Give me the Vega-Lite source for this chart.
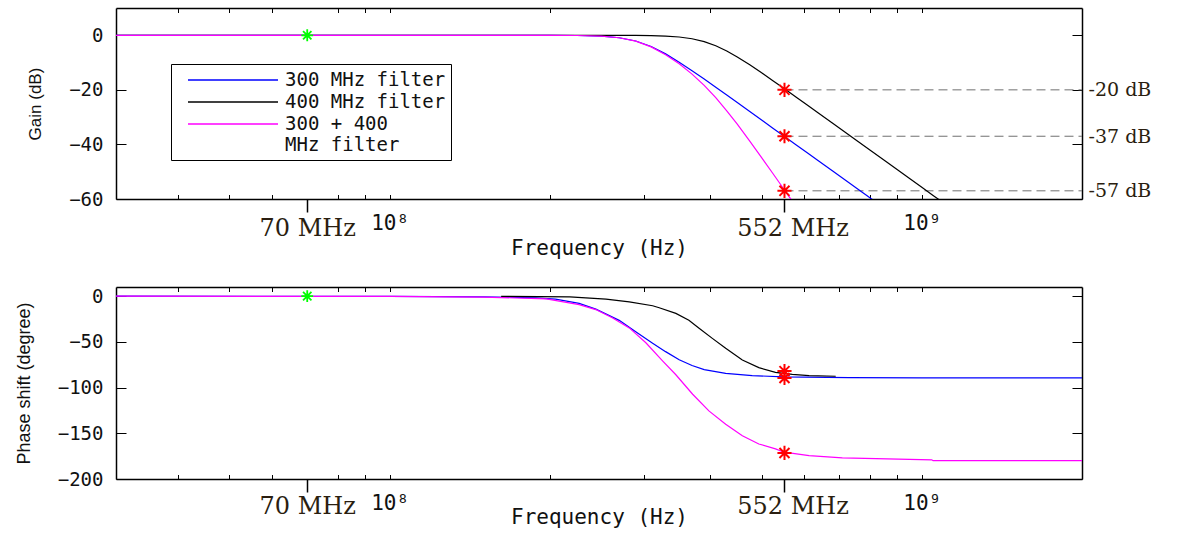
{
  "$schema": "https://vega.github.io/schema/vega-lite/v6.json",
  "background": "white",
  "padding": {"left": 15, "top": 7, "right": 5, "bottom": 5},
  "spacing": 88,
  "bounds": "flush",
  "datasets": {
    "gain": [
      {"filter": "300 MHz filter", "f": 30.6, "g": 0},
      {"filter": "300 MHz filter", "f": 100, "g": 0},
      {"filter": "300 MHz filter", "f": 150, "g": 0},
      {"filter": "300 MHz filter", "f": 200, "g": -0.01},
      {"filter": "300 MHz filter", "f": 225, "g": -0.08},
      {"filter": "300 MHz filter", "f": 250, "g": -0.33},
      {"filter": "300 MHz filter", "f": 270, "g": -0.9},
      {"filter": "300 MHz filter", "f": 290, "g": -2.1},
      {"filter": "300 MHz filter", "f": 310, "g": -4.12},
      {"filter": "300 MHz filter", "f": 330, "g": -6.81},
      {"filter": "300 MHz filter", "f": 350, "g": -9.85},
      {"filter": "300 MHz filter", "f": 370, "g": -12.98},
      {"filter": "300 MHz filter", "f": 390, "g": -16.06},
      {"filter": "300 MHz filter", "f": 410, "g": -19.05},
      {"filter": "300 MHz filter", "f": 430, "g": -21.92},
      {"filter": "300 MHz filter", "f": 450, "g": -24.67},
      {"filter": "300 MHz filter", "f": 475, "g": -27.95},
      {"filter": "300 MHz filter", "f": 500, "g": -31.06},
      {"filter": "300 MHz filter", "f": 525, "g": -34.03},
      {"filter": "300 MHz filter", "f": 552, "g": -37.08},
      {"filter": "300 MHz filter", "f": 580, "g": -40.08},
      {"filter": "300 MHz filter", "f": 610, "g": -43.15},
      {"filter": "300 MHz filter", "f": 640, "g": -46.07},
      {"filter": "300 MHz filter", "f": 680, "g": -49.76},
      {"filter": "300 MHz filter", "f": 720, "g": -53.23},
      {"filter": "300 MHz filter", "f": 760, "g": -56.52},
      {"filter": "300 MHz filter", "f": 800, "g": -59.64},
      {"filter": "300 MHz filter", "f": 820, "g": -61.14},
      {"filter": "400 MHz filter", "f": 30.6, "g": 0},
      {"filter": "400 MHz filter", "f": 100, "g": 0},
      {"filter": "400 MHz filter", "f": 200, "g": 0},
      {"filter": "400 MHz filter", "f": 250, "g": -0.01},
      {"filter": "400 MHz filter", "f": 290, "g": -0.05},
      {"filter": "400 MHz filter", "f": 310, "g": -0.12},
      {"filter": "400 MHz filter", "f": 330, "g": -0.29},
      {"filter": "400 MHz filter", "f": 350, "g": -0.62},
      {"filter": "400 MHz filter", "f": 370, "g": -1.26},
      {"filter": "400 MHz filter", "f": 390, "g": -2.31},
      {"filter": "400 MHz filter", "f": 410, "g": -3.83},
      {"filter": "400 MHz filter", "f": 430, "g": -5.74},
      {"filter": "400 MHz filter", "f": 450, "g": -7.93},
      {"filter": "400 MHz filter", "f": 475, "g": -10.82},
      {"filter": "400 MHz filter", "f": 500, "g": -13.76},
      {"filter": "400 MHz filter", "f": 525, "g": -16.63},
      {"filter": "400 MHz filter", "f": 552, "g": -19.63},
      {"filter": "400 MHz filter", "f": 580, "g": -22.62},
      {"filter": "400 MHz filter", "f": 610, "g": -25.67},
      {"filter": "400 MHz filter", "f": 640, "g": -28.58},
      {"filter": "400 MHz filter", "f": 680, "g": -32.27},
      {"filter": "400 MHz filter", "f": 720, "g": -35.74},
      {"filter": "400 MHz filter", "f": 760, "g": -39.03},
      {"filter": "400 MHz filter", "f": 800, "g": -42.14},
      {"filter": "400 MHz filter", "f": 850, "g": -45.83},
      {"filter": "400 MHz filter", "f": 900, "g": -49.31},
      {"filter": "400 MHz filter", "f": 950, "g": -52.59},
      {"filter": "400 MHz filter", "f": 1000, "g": -55.71},
      {"filter": "400 MHz filter", "f": 1050, "g": -58.68},
      {"filter": "400 MHz filter", "f": 1100, "g": -61.51},
      {"filter": "300 + 400 MHz filter", "f": 30.6, "g": 0},
      {"filter": "300 + 400 MHz filter", "f": 100, "g": 0},
      {"filter": "300 + 400 MHz filter", "f": 150, "g": 0},
      {"filter": "300 + 400 MHz filter", "f": 200, "g": -0.02},
      {"filter": "300 + 400 MHz filter", "f": 225, "g": -0.08},
      {"filter": "300 + 400 MHz filter", "f": 250, "g": -0.33},
      {"filter": "300 + 400 MHz filter", "f": 270, "g": -0.91},
      {"filter": "300 + 400 MHz filter", "f": 290, "g": -2.15},
      {"filter": "300 + 400 MHz filter", "f": 310, "g": -4.24},
      {"filter": "300 + 400 MHz filter", "f": 330, "g": -7.1},
      {"filter": "300 + 400 MHz filter", "f": 350, "g": -10.47},
      {"filter": "300 + 400 MHz filter", "f": 370, "g": -14.23},
      {"filter": "300 + 400 MHz filter", "f": 390, "g": -18.37},
      {"filter": "300 + 400 MHz filter", "f": 410, "g": -22.87},
      {"filter": "300 + 400 MHz filter", "f": 430, "g": -27.66},
      {"filter": "300 + 400 MHz filter", "f": 450, "g": -32.59},
      {"filter": "300 + 400 MHz filter", "f": 475, "g": -38.77},
      {"filter": "300 + 400 MHz filter", "f": 500, "g": -44.82},
      {"filter": "300 + 400 MHz filter", "f": 525, "g": -50.65},
      {"filter": "300 + 400 MHz filter", "f": 552, "g": -56.71},
      {"filter": "300 + 400 MHz filter", "f": 580, "g": -62.7}
    ],
    "phase": [
      {"filter": "300 MHz filter", "f": 30.6, "p": 0},
      {"filter": "300 MHz filter", "f": 100, "p": -0.2},
      {"filter": "300 MHz filter", "f": 150, "p": -0.7},
      {"filter": "300 MHz filter", "f": 188, "p": -1.8},
      {"filter": "300 MHz filter", "f": 205, "p": -3.3},
      {"filter": "300 MHz filter", "f": 227, "p": -8},
      {"filter": "300 MHz filter", "f": 244, "p": -14.2},
      {"filter": "300 MHz filter", "f": 270, "p": -26.5},
      {"filter": "300 MHz filter", "f": 290, "p": -38.9},
      {"filter": "300 MHz filter", "f": 312, "p": -51.6},
      {"filter": "300 MHz filter", "f": 330, "p": -60.7},
      {"filter": "300 MHz filter", "f": 350, "p": -69.5},
      {"filter": "300 MHz filter", "f": 370, "p": -75.8},
      {"filter": "300 MHz filter", "f": 390, "p": -80.3},
      {"filter": "300 MHz filter", "f": 428, "p": -84.4},
      {"filter": "300 MHz filter", "f": 480, "p": -86.9},
      {"filter": "300 MHz filter", "f": 550, "p": -88.4},
      {"filter": "300 MHz filter", "f": 730, "p": -89.1},
      {"filter": "300 MHz filter", "f": 1000, "p": -89.4},
      {"filter": "300 MHz filter", "f": 2000, "p": -89.5},
      {"filter": "400 MHz filter", "f": 162, "p": -0.3},
      {"filter": "400 MHz filter", "f": 218, "p": -0.7},
      {"filter": "400 MHz filter", "f": 255, "p": -3.3},
      {"filter": "400 MHz filter", "f": 282, "p": -6.2},
      {"filter": "400 MHz filter", "f": 312, "p": -10.5},
      {"filter": "400 MHz filter", "f": 321, "p": -12.7},
      {"filter": "400 MHz filter", "f": 345, "p": -18.9},
      {"filter": "400 MHz filter", "f": 365, "p": -26.3},
      {"filter": "400 MHz filter", "f": 382, "p": -35.3},
      {"filter": "400 MHz filter", "f": 404, "p": -46.2},
      {"filter": "400 MHz filter", "f": 428, "p": -57},
      {"filter": "400 MHz filter", "f": 460, "p": -69.8},
      {"filter": "400 MHz filter", "f": 494, "p": -78.2},
      {"filter": "400 MHz filter", "f": 531, "p": -83.3},
      {"filter": "400 MHz filter", "f": 571, "p": -85.5},
      {"filter": "400 MHz filter", "f": 614, "p": -86.9},
      {"filter": "400 MHz filter", "f": 689, "p": -87.6},
      {"filter": "300 + 400 MHz filter", "f": 30.6, "p": 0},
      {"filter": "300 + 400 MHz filter", "f": 100, "p": -0.3},
      {"filter": "300 + 400 MHz filter", "f": 150, "p": -1},
      {"filter": "300 + 400 MHz filter", "f": 197, "p": -3},
      {"filter": "300 + 400 MHz filter", "f": 227, "p": -9.3},
      {"filter": "300 + 400 MHz filter", "f": 244, "p": -14.7},
      {"filter": "300 + 400 MHz filter", "f": 262, "p": -23.7},
      {"filter": "300 + 400 MHz filter", "f": 282, "p": -34.7},
      {"filter": "300 + 400 MHz filter", "f": 303, "p": -51},
      {"filter": "300 + 400 MHz filter", "f": 326, "p": -71},
      {"filter": "300 + 400 MHz filter", "f": 345, "p": -86},
      {"filter": "300 + 400 MHz filter", "f": 371, "p": -107.3},
      {"filter": "300 + 400 MHz filter", "f": 398, "p": -125.5},
      {"filter": "300 + 400 MHz filter", "f": 428, "p": -140},
      {"filter": "300 + 400 MHz filter", "f": 460, "p": -152.7},
      {"filter": "300 + 400 MHz filter", "f": 494, "p": -161.7},
      {"filter": "300 + 400 MHz filter", "f": 531, "p": -167},
      {"filter": "300 + 400 MHz filter", "f": 551, "p": -170.7},
      {"filter": "300 + 400 MHz filter", "f": 614, "p": -174.4},
      {"filter": "300 + 400 MHz filter", "f": 709, "p": -177},
      {"filter": "300 + 400 MHz filter", "f": 1044, "p": -179},
      {"filter": "300 + 400 MHz filter", "f": 1050, "p": -180},
      {"filter": "300 + 400 MHz filter", "f": 2000, "p": -180}
    ],
    "levels": [
      {"f": 552, "f2": 2000, "level": -20},
      {"f": 552, "f2": 2000, "level": -37},
      {"f": 552, "f2": 2000, "level": -57}
    ],
    "gainMarks": [
      {"marker": "552 MHz", "f": 552, "g": -20},
      {"marker": "552 MHz", "f": 552, "g": -37},
      {"marker": "552 MHz", "f": 552, "g": -57},
      {"marker": "70 MHz", "f": 70, "g": 0}
    ],
    "phaseMarks": [
      {"marker": "552 MHz", "f": 552, "p": -82},
      {"marker": "552 MHz", "f": 552, "p": -89.5},
      {"marker": "552 MHz", "f": 552, "p": -171.5},
      {"marker": "70 MHz", "f": 70, "p": 0}
    ]
  },
  "vconcat": [
    {
      "width": 966,
      "height": 191,
      "resolve": {"axis": {"x": "independent", "y": "independent"}},
      "layer": [
        {
          "data": {"name": "levels"},
          "mark": {"type": "rule", "strokeDash": [9, 5], "color": "#707070", "strokeWidth": 1},
          "encoding": {
            "x": {"field": "f", "type": "quantitative", "scale": {"type": "log", "domain": [30.6, 2000], "nice": false},
              "axis": {"orient": "bottom", "values": [70, 552], "ticks": true, "tickSize": 13, "tickWidth": 1.5, "tickColor": "#000000",
                "labelExpr": "datum.value == 70 ? '70 MHz' : '552 MHz'",
                "labelFont": "DejaVu Serif", "labelFontSize": 24, "labelPadding": 4,
                "labelOffset": {"condition": {"test": "datum.value == 552", "value": 8}, "value": 0},
                "labelColor": "#2a1e10",
                "labelOverlap": false, "labelFlush": false, "labelBound": false,
                "domain": true,
                "title": "Frequency (Hz)", "titleFont": "DejaVu Sans Mono", "titleFontSize": 21, "titlePadding": -3}},
            "x2": {"field": "f2"},
            "y": {"field": "level", "type": "quantitative", "scale": {"domain": [-60, 10], "nice": false, "zero": false},
              "axis": {"orient": "left", "values": [0, -20, -40, -60], "tickSize": -10, "labelPadding": 23, "domain": true,
                "title": "Gain (dB)", "titleFont": "Liberation Sans", "titleFontSize": 17, "titlePadding": 24}}
          }
        },
        {
          "data": {"name": "gain"},
          "mark": {"type": "line", "strokeWidth": 1.2, "clip": true},
          "encoding": {
            "x": {"field": "f", "type": "quantitative", "scale": {"type": "log", "domain": [30.6, 2000], "nice": false},
              "axis": {"orient": "bottom", "values": [40, 50, 60, 80, 90, 100, 200, 300, 400, 500, 600, 700, 800, 900, 1000], "tickSize": -4.5,
                "labelExpr": "datum.value == 100 ? '10⁸' : datum.value == 1000 ? '10⁹' : ''",
                "labelFont": "DejaVu Sans Mono", "labelFontSize": 21, "labelPadding": 17.5,
                "labelOverlap": false, "labelFlush": false, "labelBound": false,
                "domain": false, "title": null}},
            "y": {"field": "g", "type": "quantitative", "scale": {"domain": [-60, 10], "nice": false, "zero": false},
              "axis": {"orient": "right", "values": [0, -20, -37, -40, -57, -60], "tickSize": -10,
                "tickColor": {"condition": {"test": "datum.value == -37 || datum.value == -57", "value": "transparent"}, "value": "#000"},
                "labelExpr": "datum.value == -20 || datum.value == -37 || datum.value == -57 ? datum.value + ' dB' : ''",
                "labelFont": "DejaVu Serif", "labelFontSize": 19, "labelPadding": 16, "labelColor": "#2a1e10", "domain": true, "title": null}},
            "color": {"field": "filter", "type": "nominal",
              "scale": {"domain": ["300 MHz filter", "400 MHz filter", "300 + 400 MHz filter"], "range": ["#0000ff", "#000000", "#ff00ff"]},
              "legend": {"orient": "none", "legendX": 55, "legendY": 56, "title": null, "direction": "vertical",
                "symbolType": "M-4.5,0H4.5", "symbolSize": 400, "symbolStrokeWidth": 1.5, "symbolOffset": 46,
                "labelOffset": 41, "labelFont": "DejaVu Sans Mono", "labelFontSize": 19, "labelColor": "#111", "labelLimit": 500,
                "padding": 5, "rowPadding": 1, "strokeColor": "#000", "fillColor": "#ffffff",
                "labelExpr": "datum.label == '300 + 400 MHz filter' ? ['300 + 400', 'MHz filter'] : datum.label"}}
          }
        },
        {
          "data": {"name": "gainMarks"},
          "transform": [{"filter": "datum.marker == '552 MHz'"}],
          "mark": {"type": "point", "shape": "M-1,0L1,0M0,-1L0,1M-0.71,-0.71L0.71,0.71M-0.71,0.71L0.71,-0.71", "filled": false, "color": "#ff0000", "strokeWidth": 2, "size": 200, "opacity": 1},
          "encoding": {
            "x": {"field": "f", "type": "quantitative", "scale": {"type": "log", "domain": [30.6, 2000], "nice": false},
              "axis": {"orient": "top", "values": [40, 50, 60, 80, 90, 100, 200, 300, 400, 500, 600, 700, 800, 900, 1000], "tickSize": -4.5, "labels": false, "domain": true, "title": null}},
            "y": {"field": "g", "type": "quantitative", "scale": {"domain": [-60, 10], "nice": false, "zero": false}, "axis": null}
          }
        },
        {
          "data": {"name": "gainMarks"},
          "transform": [{"filter": "datum.marker == '70 MHz'"}],
          "mark": {"type": "point", "shape": "M-1,0L1,0M0,-1L0,1M-0.71,-0.71L0.71,0.71M-0.71,0.71L0.71,-0.71", "filled": false, "color": "#00ff00", "strokeWidth": 1.8, "size": 140, "opacity": 1},
          "encoding": {
            "x": {"field": "f", "type": "quantitative", "scale": {"type": "log", "domain": [30.6, 2000], "nice": false}, "axis": null},
            "y": {"field": "g", "type": "quantitative", "scale": {"domain": [-60, 10], "nice": false, "zero": false}, "axis": null}
          }
        }
      ]
    },
    {
      "width": 966,
      "height": 192,
      "resolve": {"axis": {"x": "independent", "y": "independent"}},
      "layer": [
        {
          "data": {"name": "phase"},
          "mark": {"type": "line", "strokeWidth": 1.2, "clip": true},
          "encoding": {
            "x": {"field": "f", "type": "quantitative", "scale": {"type": "log", "domain": [30.6, 2000], "nice": false},
              "axis": {"orient": "bottom", "values": [70, 552], "ticks": true, "tickSize": 13, "tickWidth": 1.5, "tickColor": "#000000",
                "labelExpr": "datum.value == 70 ? '70 MHz' : '552 MHz'",
                "labelFont": "DejaVu Serif", "labelFontSize": 24, "labelPadding": 2,
                "labelOffset": {"condition": {"test": "datum.value == 552", "value": 8}, "value": 0},
                "labelColor": "#2a1e10",
                "labelOverlap": false, "labelFlush": false, "labelBound": false,
                "domain": true,
                "title": "Frequency (Hz)", "titleFont": "DejaVu Sans Mono", "titleFontSize": 21, "titlePadding": -12}},
            "y": {"field": "p", "type": "quantitative", "scale": {"domain": [-200, 10], "nice": false, "zero": false},
              "axis": {"orient": "left", "values": [0, -50, -100, -150, -200], "tickSize": -10, "labelPadding": 23, "domain": true,
                "title": "Phase shift (degree)", "titleFont": "Liberation Sans", "titleFontSize": 18, "titlePadding": 24}},
            "color": {"field": "filter", "type": "nominal",
              "scale": {"domain": ["300 MHz filter", "400 MHz filter", "300 + 400 MHz filter"], "range": ["#0000ff", "#000000", "#ff00ff"]},
              "legend": null}
          }
        },
        {
          "data": {"name": "phaseMarks"},
          "transform": [{"filter": "datum.marker == '552 MHz'"}],
          "mark": {"type": "point", "shape": "M-1,0L1,0M0,-1L0,1M-0.71,-0.71L0.71,0.71M-0.71,0.71L0.71,-0.71", "filled": false, "color": "#ff0000", "strokeWidth": 2, "size": 200, "opacity": 1},
          "encoding": {
            "x": {"field": "f", "type": "quantitative", "scale": {"type": "log", "domain": [30.6, 2000], "nice": false},
              "axis": {"orient": "bottom", "values": [40, 50, 60, 80, 90, 100, 200, 300, 400, 500, 600, 700, 800, 900, 1000], "tickSize": -4.5,
                "labelExpr": "datum.value == 100 ? '10⁸' : datum.value == 1000 ? '10⁹' : ''",
                "labelFont": "DejaVu Sans Mono", "labelFontSize": 21, "labelPadding": 17.5,
                "labelOverlap": false, "labelFlush": false, "labelBound": false,
                "domain": false, "title": null}},
            "y": {"field": "p", "type": "quantitative", "scale": {"domain": [-200, 10], "nice": false, "zero": false},
              "axis": {"orient": "right", "values": [0, -50, -100, -150, -200], "tickSize": -10, "labels": false, "domain": true, "title": null}}
          }
        },
        {
          "data": {"name": "phaseMarks"},
          "transform": [{"filter": "datum.marker == '70 MHz'"}],
          "mark": {"type": "point", "shape": "M-1,0L1,0M0,-1L0,1M-0.71,-0.71L0.71,0.71M-0.71,0.71L0.71,-0.71", "filled": false, "color": "#00ff00", "strokeWidth": 1.8, "size": 140, "opacity": 1},
          "encoding": {
            "x": {"field": "f", "type": "quantitative", "scale": {"type": "log", "domain": [30.6, 2000], "nice": false},
              "axis": {"orient": "top", "values": [40, 50, 60, 80, 90, 100, 200, 300, 400, 500, 600, 700, 800, 900, 1000], "tickSize": -4.5, "labels": false, "domain": true, "title": null}},
            "y": {"field": "p", "type": "quantitative", "scale": {"domain": [-200, 10], "nice": false, "zero": false}, "axis": null}
          }
        }
      ]
    }
  ],
  "resolve": {"scale": {"color": "independent"}},
  "config": {
    "view": {"stroke": null},
    "axis": {"grid": false, "domainColor": "#000", "domainWidth": 1.5, "tickColor": "#000", "tickWidth": 1,
      "labelColor": "#111", "labelFont": "DejaVu Sans Mono", "labelFontSize": 19, "titleColor": "#111", "titleFontWeight": "normal"}
  }
}
